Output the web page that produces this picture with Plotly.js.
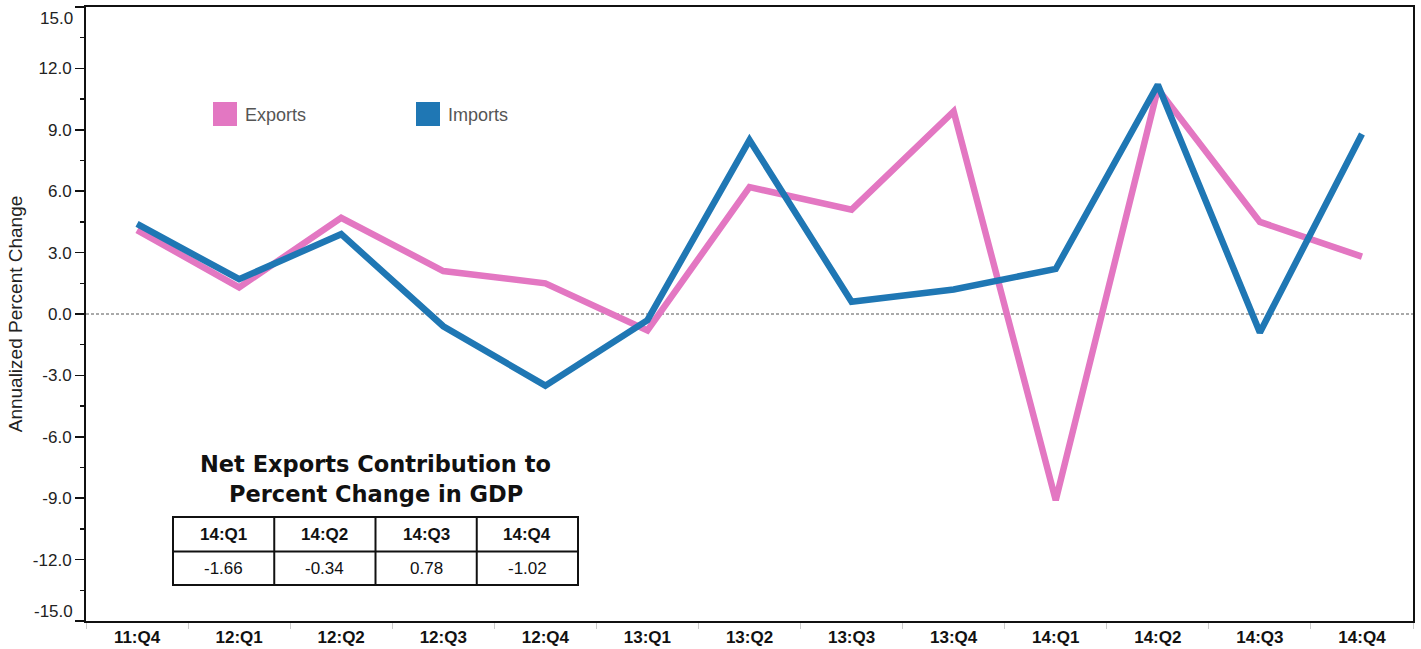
<!DOCTYPE html>
<html>
<head>
<meta charset="utf-8">
<script src="https://cdn.plot.ly/plotly-3.0.1.min.js"></script>
<style>
  html, body { margin: 0; padding: 0; background: #fff; }
  #chart { width: 1421px; height: 649px; }
</style>
</head>
<body>
<div id="chart"></div>
<script>
// Quarterly annualized percent change in real exports and imports
const quarters = ['11:Q4', '12:Q1', '12:Q2', '12:Q3', '12:Q4', '13:Q1', '13:Q2',
                  '13:Q3', '13:Q4', '14:Q1', '14:Q2', '14:Q3', '14:Q4'];
const exportsChange = [4.1, 1.3, 4.7, 2.1, 1.5, -0.8, 6.2, 5.1, 9.9, -9.1, 11.0, 4.5, 2.8];
const importsChange = [4.4, 1.7, 3.9, -0.6, -3.5, -0.3, 8.5, 0.6, 1.2, 2.2, 11.2, -0.9, 8.8];

// y-axis ticks (hyphen minus, one decimal); the end labels are drawn inset
const yTickValues = [-15, -12, -9, -6, -3, 0, 3, 6, 9, 12, 15];
const yTickLabels = ['-15.0', '-12.0', '-9.0', '-6.0', '-3.0', '0.0', '3.0', '6.0', '9.0', '12.0', '15.0'];

// Net exports contribution table
const tableQuarters = ['14:Q1', '14:Q2', '14:Q3', '14:Q4'];
const netExportsContribution = [-1.66, -0.34, 0.78, -1.02];

const seriesNames = ['Exports', 'Imports'];
const seriesColors = ['#e377c2', '#1f77b4'];

const FONT = 'Liberation Sans, Arial, sans-serif';

// plot area in pixels
const W = 1421, H = 649;
const L = 86, R = 1413, T = 7, B = 621;
const px = x => (x - L) / (R - L);
const py = y => (B - y) / (B - T);

const traces = [exportsChange, importsChange].map((vals, i) => ({
  type: 'scatter',
  mode: 'lines',
  x: quarters,
  y: vals,
  name: seriesNames[i],
  line: { color: seriesColors[i], width: 6.5 },
  showlegend: false,
  hoverinfo: 'x+y+name'
}));

const shapes = [];
const annotations = [];

// dashed zero reference line
shapes.push({
  type: 'line', xref: 'paper', yref: 'y', x0: 0, x1: 1, y0: 0, y1: 0,
  line: { color: '#555', width: 1, dash: '3px,2px' }, layer: 'below'
});

// inner tick labels at both ends of the y range, kept inside the frame height
const yMin = yTickValues[0], yMax = yTickValues[yTickValues.length - 1];
[[yMax, yTickLabels[yTickLabels.length - 1], -11.5], [yMin, yTickLabels[0], 10]].forEach(([v, t, s]) => {
  annotations.push({
    xref: 'paper', yref: 'y', x: 0, y: v, xanchor: 'right', yanchor: 'middle',
    xshift: -11, yshift: s, showarrow: false, text: t,
    font: { family: FONT, size: 17, color: '#222' }
  });
});

// legend: colour squares + labels
const legendX = [213, 416];
seriesNames.forEach((name, i) => {
  shapes.push({
    type: 'rect', xref: 'paper', yref: 'paper',
    x0: px(legendX[i]), x1: px(legendX[i] + 24),
    y0: py(126), y1: py(102),
    fillcolor: seriesColors[i], line: { width: 0 }
  });
  annotations.push({
    xref: 'paper', yref: 'paper', x: px(legendX[i] + 30), y: py(115),
    xanchor: 'left', yanchor: 'middle', showarrow: false,
    text: name,
    font: { family: FONT, size: 18, color: '#555' }
  });
});

// table of net exports contribution
const tL = 173, tR = 578, tT = 517, tM = 551.5, tB = 585;
const colW = (tR - tL) / tableQuarters.length;
const tableTitle = ['Net Exports Contribution to', 'Percent Change in GDP'];
const titleLineY = [464, 494];
tableTitle.forEach((line, k) => {
  annotations.push({
    xref: 'paper', yref: 'paper', x: px((tL + tR) / 2), y: py(titleLineY[k]),
    xanchor: 'center', yanchor: 'middle', showarrow: false,
    text: line,
    font: { family: 'DejaVu Sans, sans-serif', size: 22.5, color: '#111', weight: 'bold' }
  });
});
shapes.push({
  type: 'rect', xref: 'paper', yref: 'paper',
  x0: px(tL), x1: px(tR), y0: py(tB), y1: py(tT),
  line: { color: '#111', width: 2 }, fillcolor: 'rgba(0,0,0,0)'
});
shapes.push({
  type: 'line', xref: 'paper', yref: 'paper',
  x0: px(tL), x1: px(tR), y0: py(tM), y1: py(tM),
  line: { color: '#111', width: 2 }
});
for (let c = 1; c < tableQuarters.length; c++) {
  shapes.push({
    type: 'line', xref: 'paper', yref: 'paper',
    x0: px(tL + c * colW), x1: px(tL + c * colW), y0: py(tB), y1: py(tT),
    line: { color: '#111', width: 2 }
  });
}
tableQuarters.forEach((q, c) => {
  const cx = px(tL + (c + 0.5) * colW);
  annotations.push({
    xref: 'paper', yref: 'paper', x: cx, y: py((tT + tM) / 2),
    xanchor: 'center', yanchor: 'middle', showarrow: false,
    text: q,
    font: { family: FONT, size: 17, color: '#111', weight: 'bold' }
  });
  annotations.push({
    xref: 'paper', yref: 'paper', x: cx, y: py((tM + tB) / 2),
    xanchor: 'center', yanchor: 'middle', showarrow: false,
    text: netExportsContribution[c].toFixed(2),
    font: { family: FONT, size: 17, color: '#111' }
  });
});

const layout = {
  width: W, height: H,
  margin: { l: L, r: W - R, t: T, b: H - B, pad: 0 },
  paper_bgcolor: '#fff', plot_bgcolor: '#fff',
  showlegend: false,
  xaxis: {
    type: 'category',
    range: [-0.5, quarters.length - 0.5],
    tickson: 'boundaries',
    ticks: 'outside', ticklen: 6, tickwidth: 1, tickcolor: '#ccc',
    showgrid: false, zeroline: false,
    showline: true, mirror: true, linecolor: '#111', linewidth: 2,
    tickfont: { family: FONT, size: 17, color: '#111', weight: 'bold' },
    fixedrange: true
  },
  yaxis: {
    range: [yMin, yMax],
    tickmode: 'array',
    tickvals: yTickValues,
    ticktext: yTickLabels.map((t, i) => (i === 0 || i === yTickLabels.length - 1) ? '' : t),
    ticks: 'outside', ticklen: 9, tickwidth: 1.5, tickcolor: '#111',
    minor: { dtick: 1.5, tick0: 0, ticks: 'outside', ticklen: 4, tickwidth: 1.5, tickcolor: '#111', showgrid: false },
    showgrid: false, zeroline: false,
    showline: true, mirror: true, linecolor: '#111', linewidth: 2,
    tickfont: { family: FONT, size: 17, color: '#222' },
    title: {
      text: 'Annualized Percent Change',
      font: { family: FONT, size: 19, color: '#222' },
      standoff: 5
    },
    fixedrange: true
  },
  shapes: shapes,
  annotations: annotations
};

Plotly.newPlot('chart', traces, layout, { displayModeBar: false, staticPlot: true });
</script>
</body>
</html>
